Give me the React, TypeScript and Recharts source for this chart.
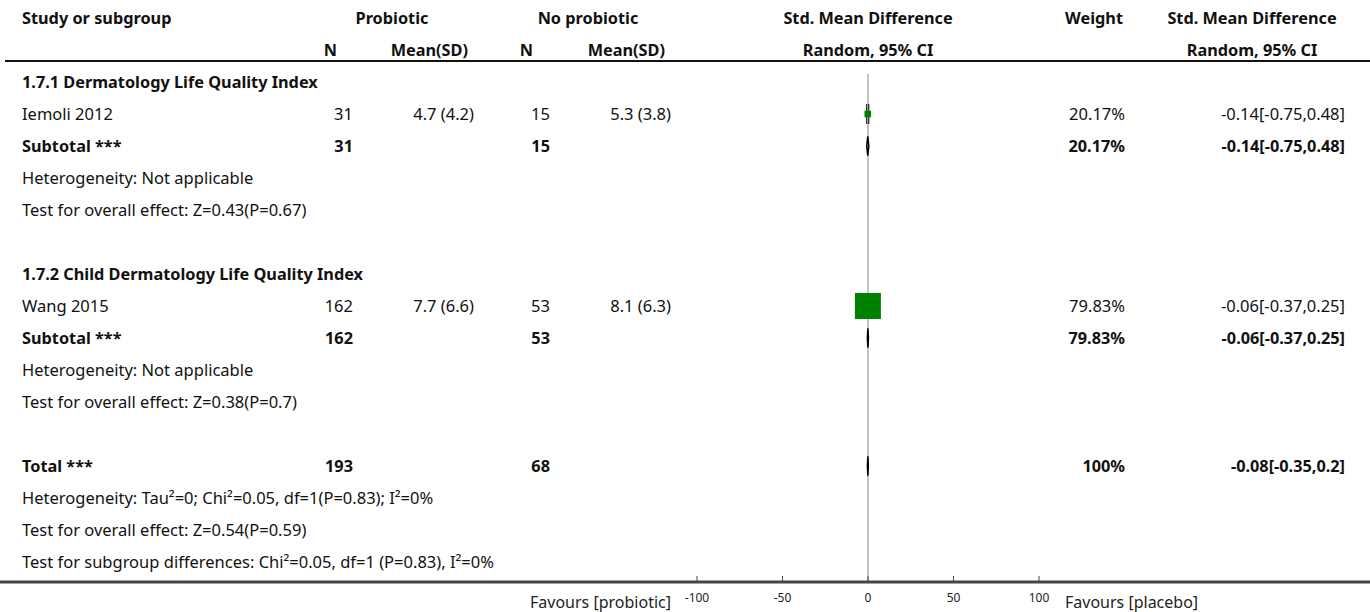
import React from 'react';
import { ScatterChart, Scatter, XAxis, YAxis, ReferenceLine, ErrorBar } from 'recharts';

// studies
const studyNames = ['Iemoli 2012', 'Wang 2015'];
const studyRows = [1, 7];
const probN = [31, 162];
const probMean = ['4.7 (4.2)', '7.7 (6.6)'];
const ctrlN = [15, 53];
const ctrlMean = ['5.3 (3.8)', '8.1 (6.3)'];
const studyWeight = [20.17, 79.83];
const studySmd = [-0.14, -0.06];
const studyLow = [-0.75, -0.37];
const studyHigh = [0.48, 0.25];

// subtotals + total
const sumLabels = ['Subtotal ***', 'Subtotal ***', 'Total ***'];
const sumRows = [2, 8, 12];
const sumProbN = [31, 162, 193];
const sumCtrlN = [15, 53, 68];
const sumWeight = [20.17, 79.83, 100];
const sumSmd = [-0.14, -0.06, -0.08];
const sumLow = [-0.75, -0.37, -0.35];
const sumHigh = [0.48, 0.25, 0.2];

const headingRows = [0, 6];
const headings = ['1.7.1 Dermatology Life Quality Index', '1.7.2 Child Dermatology Life Quality Index'];

const noteRows = [3, 4, 9, 10, 13, 14, 15];
const notes = [
    'Heterogeneity: Not applicable',
    'Test for overall effect: Z=0.43(P=0.67)',
    'Heterogeneity: Not applicable',
    'Test for overall effect: Z=0.38(P=0.7)',
    'Heterogeneity: Tau\u00b2=0; Chi\u00b2=0.05, df=1(P=0.83); I\u00b2=0%',
    'Test for overall effect: Z=0.54(P=0.59)',
    'Test for subgroup differences: Chi\u00b2=0.05, df=1 (P=0.83), I\u00b2=0%',
];

const axisTicks = [-100, -50, 0, 50, 100];

// layout
const W = 1370;
const H = 612;
const ROW0 = 82;
const ROWH = 32;
const AXIS_Y = 582;
const ZERO_X = 868;
const PX_PER_UNIT = 1.71;
const X_MIN = -ZERO_X / PX_PER_UNIT;
const X_MAX = (W - ZERO_X) / PX_PER_UNIT;
const Y_MIN = -ROW0 / ROWH;
const Y_MAX = (AXIS_Y - ROW0) / ROWH;
const FONT = "'Noto Sans', sans-serif";
const FS = 16.5;
const FS_BOLD = 16.3;
const rowY = (r: number) => ROW0 + r * ROWH;

const ciText = (m: number, lo: number, hi: number) => `${m}[${lo},${hi}]`;

const studyData = studyNames.map((name, i) => ({
    name,
    x: studySmd[i],
    y: studyRows[i],
    size: (26 * studyWeight[i]) / 79.83,
    err: [studySmd[i] - studyLow[i], studyHigh[i] - studySmd[i]],
}));

const diamonds = sumLabels.map((_, i) => [
    { x: sumLow[i], y: sumRows[i] },
    { x: sumSmd[i], y: sumRows[i] - 0.3 },
    { x: sumHigh[i], y: sumRows[i] },
    { x: sumSmd[i], y: sumRows[i] + 0.3 },
    { x: sumLow[i], y: sumRows[i] },
]);

const Square = (props: any) => {
    const { cx, cy, payload } = props;
    const s = payload.size;
    return <rect x={cx - s / 2} y={cy - s / 2} width={s} height={s} fill="#008000" />;
};

const Nothing = () => <g />;

const AxisTick = (props: any) => {
    const { x, y, payload } = props;
    return (
        <g>
            <line x1={x} x2={x} y1={y - 6} y2={y} stroke="#444" strokeWidth={1} />
            <text x={x} y={y + 20} textAnchor="middle" fontSize={12} fill="#222" fontFamily={FONT}>{payload.value}</text>
        </g>
    );
};

const T: React.FC<{ x: number; r: number; anchor?: 'start' | 'middle' | 'end'; bold?: boolean; children: React.ReactNode }> = ({ x, r, anchor = 'start', bold, children }) => (
    <text x={x} y={rowY(r) + 6} textAnchor={anchor} fontWeight={bold ? 700 : 400} fontSize={bold ? FS_BOLD : FS} fill="#111" fontFamily={FONT}>{children}</text>
);

const Table = () => (
    <svg width={W} height={H} style={{ position: 'absolute', left: 0, top: 0, pointerEvents: 'none' }}>
        {/* headers */}
        <T x={22} r={-2} bold>Study or subgroup</T>
        <T x={392} r={-2} anchor="middle" bold>Probiotic</T>
        <T x={588} r={-2} anchor="middle" bold>No probiotic</T>
        <T x={868} r={-2} anchor="middle" bold>Std. Mean Difference</T>
        <T x={1123} r={-2} anchor="end" bold>Weight</T>
        <T x={1252} r={-2} anchor="middle" bold>Std. Mean Difference</T>
        <T x={337} r={-1} anchor="end" bold>N</T>
        <T x={468} r={-1} anchor="end" bold>Mean(SD)</T>
        <T x={533} r={-1} anchor="end" bold>N</T>
        <T x={665} r={-1} anchor="end" bold>Mean(SD)</T>
        <T x={868} r={-1} anchor="middle" bold>Random, 95% CI</T>
        <T x={1252} r={-1} anchor="middle" bold>Random, 95% CI</T>
        <line x1={5} x2={W} y1={61} y2={61} stroke="#111" strokeWidth={2} />

        {headings.map((h, i) => <T key={h} x={22} r={headingRows[i]} bold>{h}</T>)}

        {studyNames.map((n, i) => (
            <g key={n}>
                <T x={22} r={studyRows[i]}>{n}</T>
                <T x={353} r={studyRows[i]} anchor="end">{probN[i]}</T>
                <T x={474} r={studyRows[i]} anchor="end">{probMean[i]}</T>
                <T x={550} r={studyRows[i]} anchor="end">{ctrlN[i]}</T>
                <T x={671} r={studyRows[i]} anchor="end">{ctrlMean[i]}</T>
                <T x={1125} r={studyRows[i]} anchor="end">{`${studyWeight[i]}%`}</T>
                <T x={1345} r={studyRows[i]} anchor="end">{ciText(studySmd[i], studyLow[i], studyHigh[i])}</T>
            </g>
        ))}

        {sumLabels.map((l, i) => (
            <g key={i}>
                <T x={22} r={sumRows[i]} bold>{l}</T>
                <T x={353} r={sumRows[i]} anchor="end" bold>{sumProbN[i]}</T>
                <T x={550} r={sumRows[i]} anchor="end" bold>{sumCtrlN[i]}</T>
                <T x={1125} r={sumRows[i]} anchor="end" bold>{`${sumWeight[i]}%`}</T>
                <T x={1345} r={sumRows[i]} anchor="end" bold>{ciText(sumSmd[i], sumLow[i], sumHigh[i])}</T>
            </g>
        ))}

        {notes.map((n, i) => <T key={i} x={22} r={noteRows[i]}>{n}</T>)}

        <text x={671} y={608} textAnchor="end" fontSize={16} fill="#222" fontFamily={FONT}>Favours [probiotic]</text>
        <text x={1065} y={608} textAnchor="start" fontSize={16} fill="#222" fontFamily={FONT}>Favours [placebo]</text>
    </svg>
);

const ForestPlot: React.FC = () => {
    return (
        <div style={{ position: 'absolute', left: 0, top: 0, width: W, height: H, background: '#fff' }}>
            <ScatterChart width={W} height={H} margin={{ top: 0, right: 0, bottom: 0, left: 0 }}>
                <XAxis type="number" dataKey="x" domain={[X_MIN, X_MAX]} allowDataOverflow ticks={axisTicks} interval={0}
                    height={H - AXIS_Y} tickLine={false} tickSize={0} tickMargin={0}
                    axisLine={{ stroke: '#444', strokeWidth: 3 }} tick={<AxisTick />} />
                <YAxis type="number" dataKey="y" domain={[Y_MIN, Y_MAX]} allowDataOverflow reversed hide />
                <ReferenceLine segment={[{ x: 0, y: -0.25 }, { x: 0, y: Y_MAX }]} stroke="#888" strokeWidth={1} ifOverflow="visible" />
                <Scatter data={studyData} shape={<Square />} isAnimationActive={false} />
                <Scatter data={studyData} shape={<Nothing />} isAnimationActive={false}>
                    <ErrorBar dataKey="err" direction="x" width={10} stroke="#000" strokeWidth={1} isAnimationActive={false} />
                </Scatter>
                {diamonds.map((d, i) => (
                    <Scatter key={i} data={d} line={{ stroke: '#000', strokeWidth: 1.5 }} shape={<Nothing />} isAnimationActive={false} />
                ))}
            </ScatterChart>
            <Table />
        </div>
    );
};

export default ForestPlot;
